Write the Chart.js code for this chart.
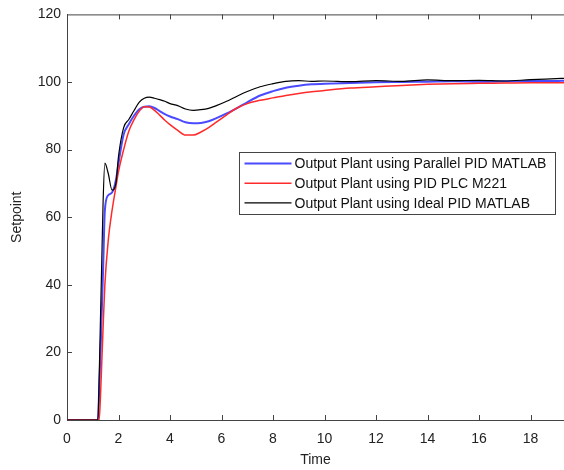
<!DOCTYPE html>
<html>
<head>
<meta charset="utf-8">
<script src="https://cdn.jsdelivr.net/npm/chart.js@4"></script>
<style>
  html, body { margin: 0; padding: 0; background: #fff; }
  #wrap { width: 564px; height: 470px; }
</style>
</head>
<body>
<div id="wrap"><canvas id="plantChart" width="564" height="470"></canvas></div>
<script>
  // Time samples (s) shared by all three responses
  const time = [0, 1.2, 1.25, 1.3, 1.35, 1.4, 1.47, 1.6, 1.75, 1.9, 2.0, 2.2, 2.4, 2.6, 2.8, 3.0, 3.2, 3.4, 3.6, 3.8,
    4.0, 4.3, 4.6, 4.9, 5.2, 5.5, 5.8, 6.2, 6.6, 7.0, 7.5, 8.0, 8.5, 9, 9.5, 10, 11, 12, 13, 14, 15, 16, 17, 18, 19, 19.3];

  const parallelPid = [0, 0, 9, 20, 32, 44, 62, 66.5, 67.3, 71, 76, 84.5, 87.5, 90, 91.9, 92.7, 92.8, 92.3, 91.4, 90.5,
    89.8, 89, 88.1, 87.8, 87.9, 88.4, 89.3, 90.7, 92.3, 94, 96, 97.3, 98.3, 98.9, 99.3, 99.5, 99.7, 99.9, 100, 100.1, 100.2, 100.1, 100.2, 100.3, 100.3, 100.4];

  const plcM221 = [0, 0, 0, 7, 17, 27, 40, 53, 62, 69, 73.5, 80, 85.4, 88.8, 91.3, 92.7, 92.6, 91.6, 90.2, 88.7,
    87.4, 85.7, 84.3, 84.3, 85.2, 86.5, 88.1, 90.3, 92.3, 93.6, 94.6, 95.3, 96, 96.6, 97.1, 97.5, 98.2, 98.6, 99, 99.3, 99.5, 99.6, 99.7, 99.8, 99.8, 99.8];

  const idealPid = [0, 0, 13, 30, 47, 64, 76, 73, 68, 70, 78, 86.5, 88.9, 91.5, 94, 95.2, 95.5, 95.2, 94.8, 94.3,
    93.6, 93, 92, 91.6, 91.8, 92.2, 93, 94.3, 95.8, 97.2, 98.6, 99.5, 100.2, 100.4, 100.2, 100.3, 100.1, 100.4, 100.2, 100.6, 100.4, 100.5, 100.3, 100.7, 101, 101.1];

  const xTicks = [0, 2, 4, 6, 8, 10, 12, 14, 16, 18];
  const yTicks = [0, 20, 40, 60, 80, 100, 120];

  const toPoints = vals => time.map((t, i) => ({ x: t, y: vals[i] }));

  const font = { family: 'Liberation Sans, Arial, sans-serif', size: 14 };

  // inner ticks, top border and boxed legend like the MATLAB figure
  const matlabAxes = {
    id: 'matlabAxes',
    afterDraw(chart) {
      const { ctx, chartArea: a, scales } = chart;
      ctx.save();
      ctx.strokeStyle = '#444';
      ctx.lineWidth = 1;
      ctx.beginPath();
      ctx.moveTo(a.left, a.top + 0.5);
      ctx.lineTo(a.right, a.top + 0.5);
      xTicks.forEach(v => {
        if (v === 0) return;
        const px = Math.round(scales.x.getPixelForValue(v)) + 0.5;
        ctx.moveTo(px, a.bottom); ctx.lineTo(px, a.bottom - 5);
        ctx.moveTo(px, a.top); ctx.lineTo(px, a.top + 5);
      });
      yTicks.forEach(v => {
        if (v === 0 || v === 120) return;
        const py = Math.round(scales.y.getPixelForValue(v)) + 0.5;
        ctx.moveTo(a.left, py); ctx.lineTo(a.left + 5, py);
      });
      ctx.stroke();

      // legend
      const bx = 239.5, by = 152.5, bw = 316, bh = 62;
      ctx.fillStyle = '#fff';
      ctx.fillRect(bx, by, bw, bh);
      ctx.strokeStyle = '#444';
      ctx.strokeRect(bx, by, bw, bh);
      ctx.font = '14px Liberation Sans, Arial, sans-serif';
      ctx.textBaseline = 'middle';
      chart.data.datasets.forEach((ds, i) => {
        const y = by + 11 + i * 19.7;
        ctx.strokeStyle = ds.borderColor;
        ctx.lineWidth = ds.borderWidth;
        ctx.beginPath();
        ctx.moveTo(bx + 5, y); ctx.lineTo(bx + 52, y);
        ctx.stroke();
        ctx.fillStyle = '#111';
        ctx.fillText(ds.label, bx + 55, y + 1);
      });
      ctx.restore();
    }
  };

  const chartConfig = {
    type: 'line',
    data: {
      datasets: [
        {
          label: 'Output Plant using Parallel PID MATLAB',
          data: toPoints(parallelPid),
          borderColor: '#4a4aff',
          borderWidth: 2,
          order: 2
        },
        {
          label: 'Output Plant using PID PLC M221',
          data: toPoints(plcM221),
          borderColor: '#ff2a2a',
          borderWidth: 1.5,
          order: 1
        },
        {
          label: 'Output Plant using Ideal PID MATLAB',
          data: toPoints(idealPid),
          borderColor: '#000000',
          borderWidth: 1.2,
          order: 0
        }
      ]
    },
    options: {
      responsive: false,
      animation: false,
      layout: { padding: { top: 14, right: 0, left: 0, bottom: 0 } },
      elements: {
        point: { radius: 0 },
        line: { cubicInterpolationMode: 'monotone', fill: false }
      },
      plugins: {
        legend: { display: false },
        tooltip: { enabled: false }
      },
      scales: {
        x: {
          type: 'linear',
          min: 0,
          max: 19.3,
          afterBuildTicks: s => { s.ticks = xTicks.map(v => ({ value: v })); },
          afterFit: s => { s.height = 50; },
          grid: { display: false, drawTicks: false },
          border: { display: true, color: '#444', width: 1 },
          ticks: { color: '#222', font: font, padding: 11, maxRotation: 0 },
          title: { display: true, text: 'Time', color: '#222', font: font, padding: { top: 0, bottom: 1 } }
        },
        y: {
          min: 0,
          max: 120,
          afterBuildTicks: s => { s.ticks = yTicks.map(v => ({ value: v })); },
          afterFit: s => { s.width = 67; },
          grid: { display: false, drawTicks: false },
          border: { display: true, color: '#444', width: 1 },
          ticks: { color: '#222', font: font, padding: 6 },
          title: { display: true, text: 'Setpoint', color: '#222', font: font, padding: { top: 9, bottom: 0 } }
        }
      }
    },
    plugins: [matlabAxes]
  };

  const ctx = document.getElementById('plantChart').getContext('2d');
  const plantChart = new Chart(ctx, chartConfig);
</script>
</body>
</html>
